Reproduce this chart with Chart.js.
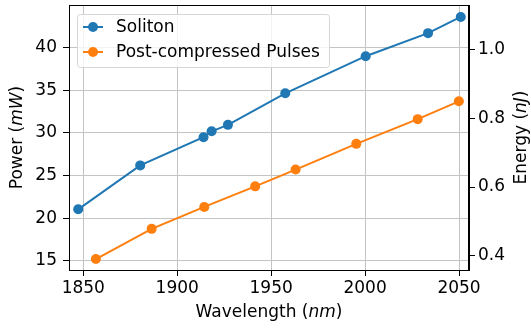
<!DOCTYPE html>
<html>
<head>
<meta charset="utf-8">
<script src="https://cdn.jsdelivr.net/npm/chart.js@4"></script>
<style>
  html, body { margin: 0; padding: 0; background: #fff; }
  #wrap { width: 531px; height: 329px; }
</style>
</head>
<body>
<div id="wrap"><canvas id="c" width="531" height="329"></canvas></div>
<script>
// ── Data ─────────────────────────────────────────────────────────────
const solitonWl    = [1847.3, 1880.3, 1914.0, 1918.3, 1927.0, 1957.5, 2000.3, 2033.5, 2050.9];
const solitonPower = [21.05, 26.2, 29.5, 30.2, 30.95, 34.65, 39.0, 41.7, 43.6];
const compWl       = [1856.7, 1886.4, 1914.4, 1941.5, 1963.0, 1995.3, 2028.0, 2049.9];
const compEnergy   = [0.390, 0.478, 0.542, 0.602, 0.651, 0.726, 0.798, 0.850];

const xTicks      = [1850, 1900, 1950, 2000, 2050];
const powerTicks  = [15, 20, 25, 30, 35, 40];
const energyTicks = [0.4, 0.6, 0.8, 1.0];

const BLUE = '#1f77b4', ORANGE = '#ff7f0e';
const FONT = 'DejaVu Sans';
const FS   = 17;
const GRID = '#c4c4c4';

const pts = (xs, ys) => xs.map((x, i) => ({ x, y: ys[i] }));
const fixTicks = arr => scale => { scale.ticks = arr.map(v => ({ value: v })); };
// pin the plot box: fixed axis thickness, no extra room for overhanging labels
const fitW = w => s => { s.width = w; s.paddingTop = 0; s.paddingBottom = 0; };
const fitH = h => s => { s.height = h; s.paddingLeft = 0; s.paddingRight = 0; };

// ── Axis titles with italic units, frame and inset legend ────────────
const decor = {
  id: 'decor',
  afterDraw(chart) {
    const { ctx, chartArea: a } = chart;
    ctx.save();
    // frame
    ctx.strokeStyle = '#000';
    ctx.lineWidth = 1;
    ctx.strokeRect(a.left + 0.5, a.top + 0.5, a.right - a.left - 1, a.bottom - a.top);

    // mixed-style label helper
    const mixed = (parts, cx, cy, rot) => {
      ctx.save();
      ctx.translate(cx, cy);
      ctx.rotate(rot);
      ctx.fillStyle = '#000';
      ctx.textBaseline = 'middle';
      ctx.textAlign = 'left';
      const f = p => (p[1] ? 'italic ' : '') + FS + 'px ' + FONT;
      let w = 0;
      parts.forEach(p => { ctx.font = f(p); w += ctx.measureText(p[0]).width; });
      let x = -w / 2;
      parts.forEach(p => {
        ctx.font = f(p);
        ctx.fillText(p[0], x, 0);
        x += ctx.measureText(p[0]).width;
      });
      ctx.restore();
    };
    const midY = (a.top + a.bottom) / 2;
    mixed([['Wavelength (', 0], ['nm', 1], [')', 0]], (a.left + a.right) / 2, 313, 0);
    mixed([['Power (', 0], ['mW', 1], [')', 0]], 18, midY, -Math.PI / 2);
    mixed([['Energy (', 0], ['nJ', 1], [')', 0]], 522, midY, -Math.PI / 2);

    // legend
    const lx = 77, ly = 14, lw = 252, lh = 53;
    ctx.beginPath();
    ctx.roundRect(lx + 0.5, ly + 0.5, lw, lh, 3);
    ctx.fillStyle = 'rgba(255,255,255,0.8)';
    ctx.fill();
    ctx.strokeStyle = '#d6d6d6';
    ctx.lineWidth = 1;
    ctx.stroke();
    ctx.font = FS + 'px ' + FONT;
    ctx.textBaseline = 'middle';
    chart.data.datasets.forEach((ds, i) => {
      const y = ly + 13 + i * 25;
      ctx.strokeStyle = ds.borderColor;
      ctx.lineWidth = 2;
      ctx.beginPath();
      ctx.moveTo(lx + 6, y);
      ctx.lineTo(lx + 26, y);
      ctx.stroke();
      ctx.fillStyle = ds.backgroundColor;
      ctx.beginPath();
      ctx.arc(lx + 16, y, 5, 0, Math.PI * 2);
      ctx.fill();
      ctx.fillStyle = '#000';
      ctx.fillText(ds.label, lx + 39, y + 1);
    });
    ctx.restore();
  }
};

const tickFont = { family: FONT, size: FS };

new Chart(document.getElementById('c'), {
  type: 'line',
  data: {
    datasets: [
      {
        label: 'Soliton',
        data: pts(solitonWl, solitonPower),
        yAxisID: 'y',
        borderColor: BLUE, backgroundColor: BLUE,
        borderWidth: 2, pointRadius: 5, pointBorderWidth: 0,
      },
      {
        label: 'Post-compressed Pulses',
        data: pts(compWl, compEnergy),
        yAxisID: 'y1',
        borderColor: ORANGE, backgroundColor: ORANGE,
        borderWidth: 2, pointRadius: 5, pointBorderWidth: 0,
      },
    ],
  },
  options: {
    responsive: false,
    animation: false,
    events: [],
    layout: { padding: { top: 5, left: 0, right: 0, bottom: 0 } },
    plugins: { legend: { display: false }, tooltip: { enabled: false } },
    scales: {
      x: {
        type: 'linear', min: 1842.4, max: 2055.3,
        afterBuildTicks: fixTicks(xTicks),
        afterFit: fitH(59),
        grid: { color: GRID, tickColor: '#000', tickLength: 6, lineWidth: 1 },
        border: { color: '#000' },
        ticks: { color: '#000', font: tickFont, padding: 2, maxRotation: 0,
                 callback: v => String(v) },
      },
      y: {
        type: 'linear', position: 'left', min: 13.94, max: 45.0,
        afterBuildTicks: fixTicks(powerTicks),
        afterFit: fitW(69),
        grid: { color: GRID, tickColor: '#000', tickLength: 6, lineWidth: 1 },
        border: { color: '#000' },
        ticks: { color: '#000', font: tickFont, padding: 6, callback: v => String(v) },
      },
      y1: {
        type: 'linear', position: 'right', min: 0.358, max: 1.131,
        afterBuildTicks: fixTicks(energyTicks),
        afterFit: fitW(62),
        grid: { drawOnChartArea: false, tickColor: '#000', tickLength: 6 },
        border: { color: '#000' },
        ticks: { color: '#000', font: tickFont, padding: 3,
                 callback: v => v.toFixed(1) },
      },
    },
  },
  plugins: [decor],
});
</script>
</body>
</html>
